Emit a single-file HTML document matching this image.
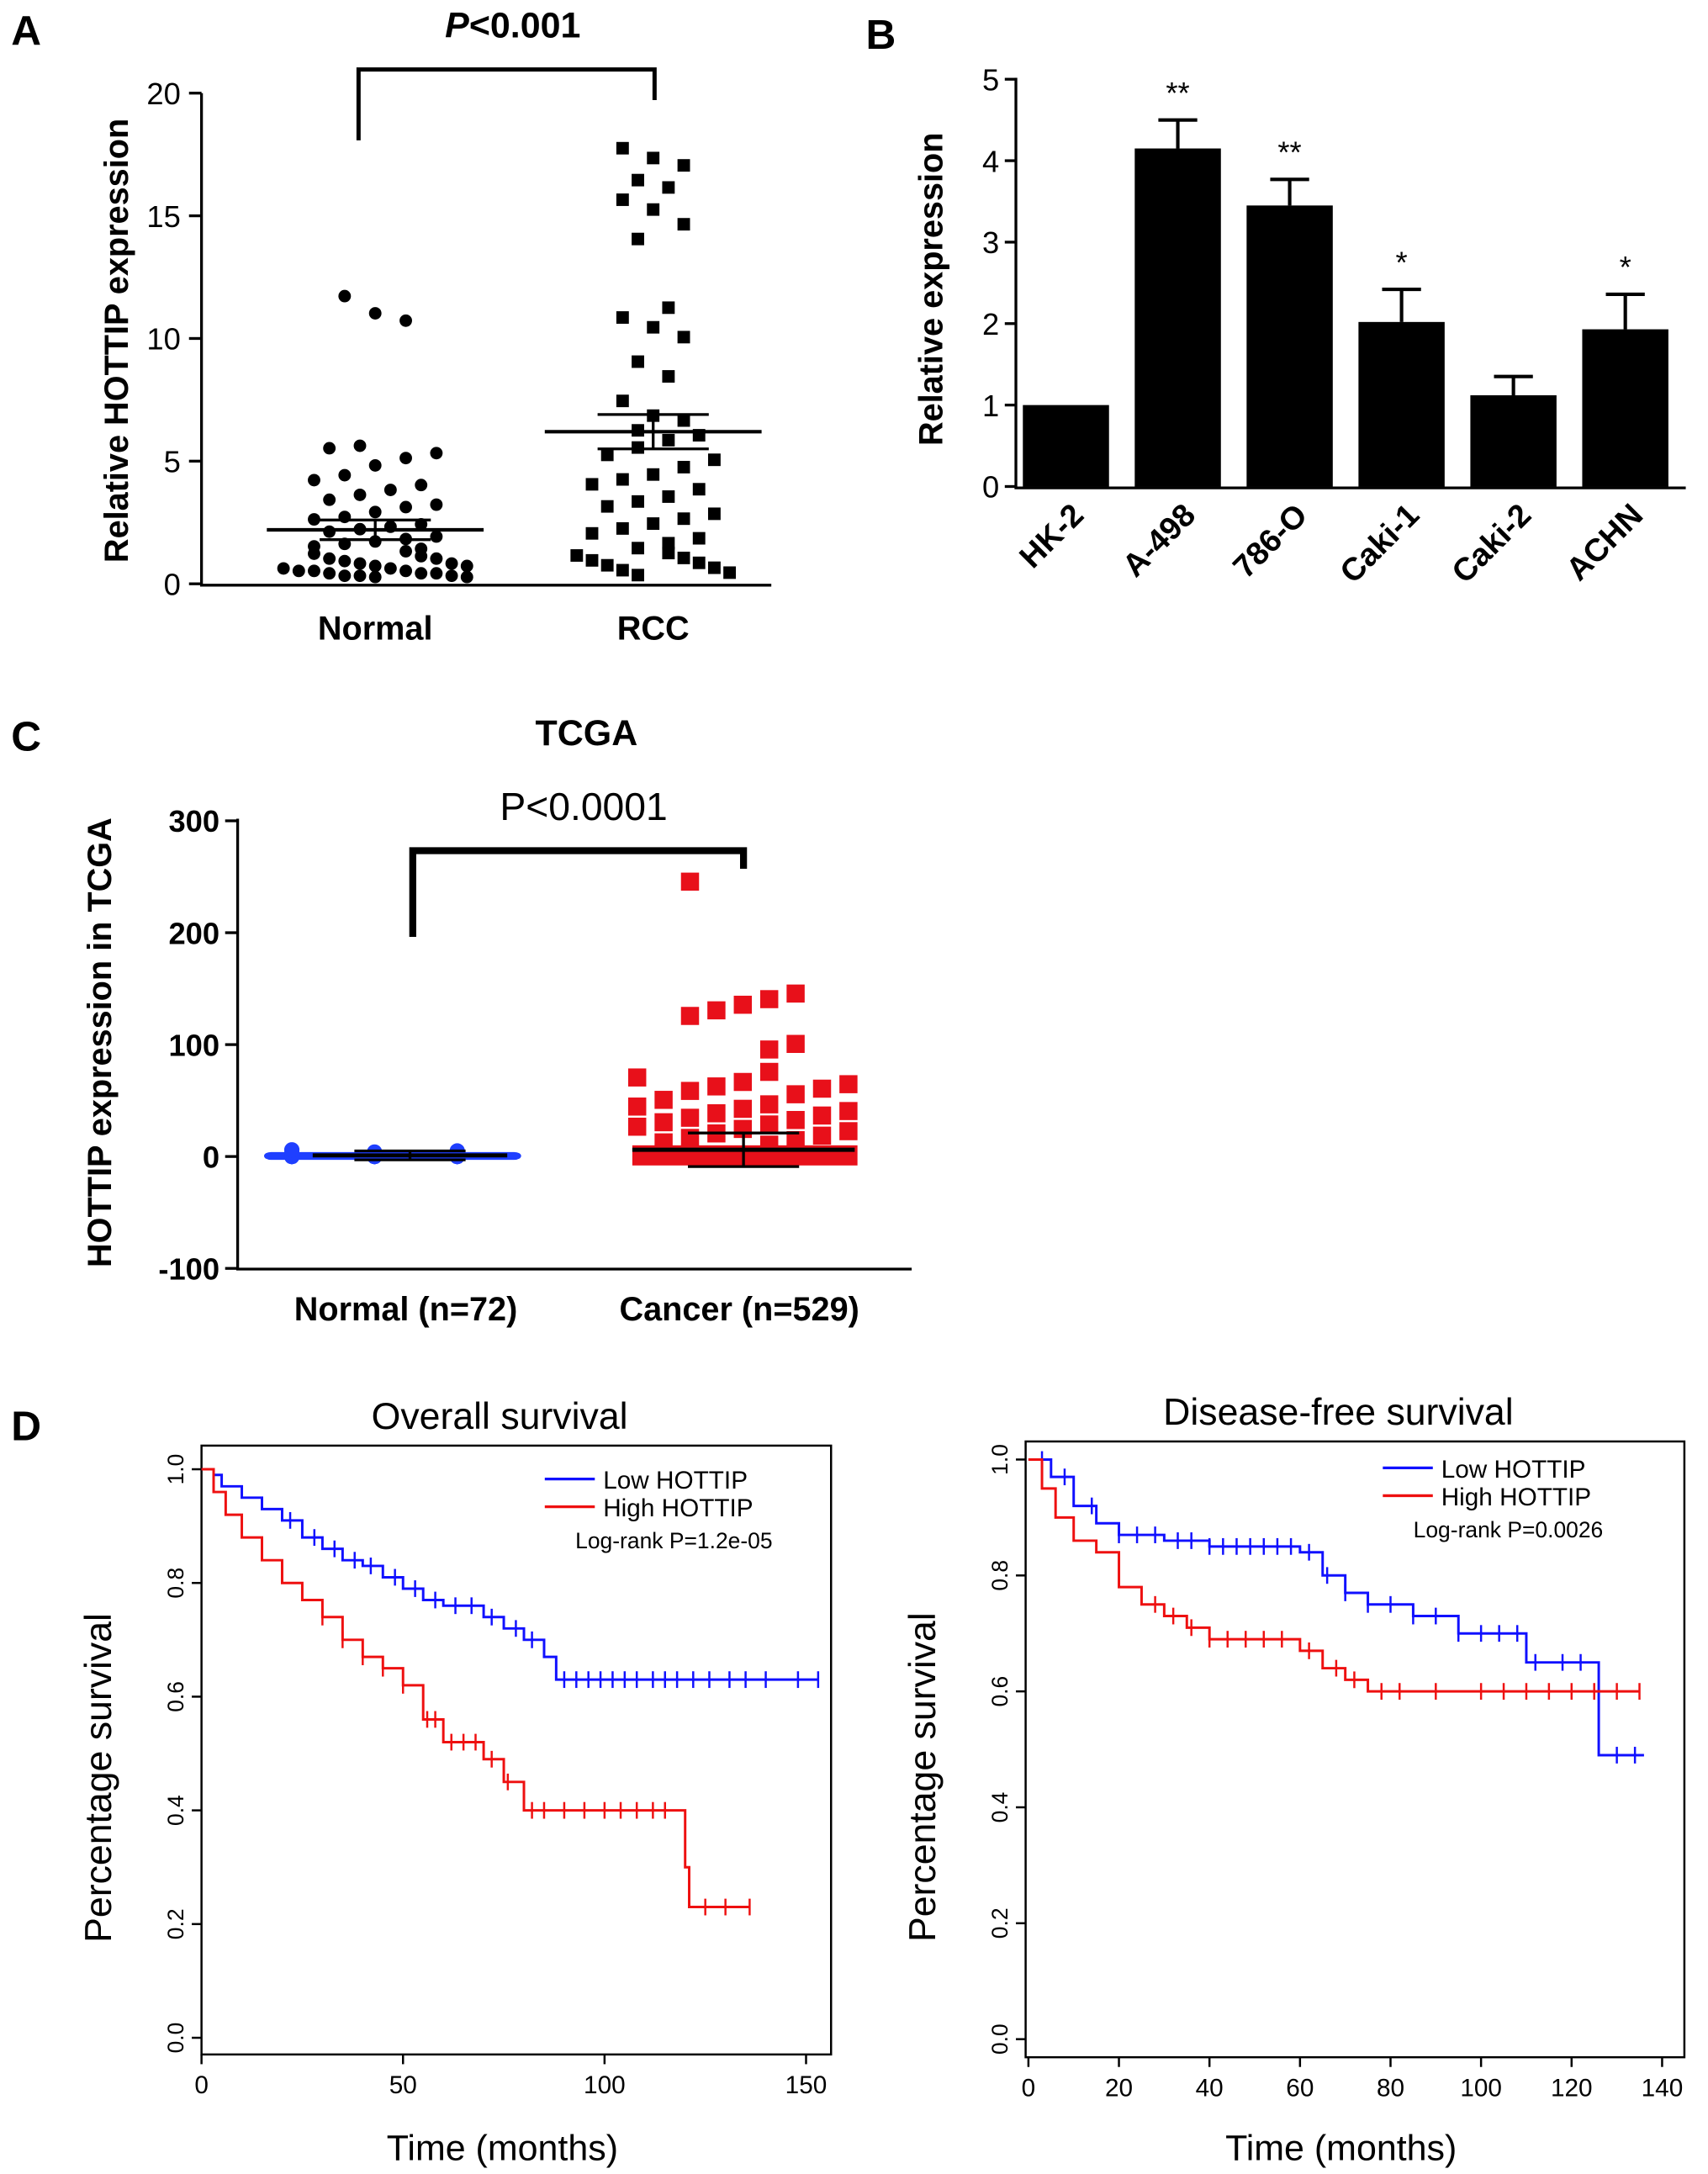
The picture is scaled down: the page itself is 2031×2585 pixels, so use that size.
<!DOCTYPE html>
<html><head><meta charset="utf-8"><style>
html,body{margin:0;padding:0;background:#fff}
svg{display:block;font-family:"Liberation Sans",Arial,sans-serif}
</style></head><body>
<svg id="fig" width="2031" height="2585" viewBox="0 0 1229 1564" preserveAspectRatio="none" xmlns="http://www.w3.org/2000/svg">
<g id="A"></g>
<g id="B"></g>
<g id="C"></g>
<g id="D"></g>
</svg>
<script>
// ---------- Panel A data ----------
const aNormal=[11.5,10.8,10.5,5.4,5.3,5.1,4.9,4.6,4.2,4.0,3.8,3.6,3.4,3.2,3.0,2.9,2.7,2.5,2.4,2.2,2.1,2.0,1.9,1.7,1.6,1.5,1.4,1.3,1.2,1.1,1.0,0.9,0.8,0.8,0.7,0.6,0.6,0.5,0.5,0.4,0.4,0.3,0.3,0.3,0.2,0.2,0.2,0.1,0.1,0.1,0.05,0.05];
const aRCC=[17.5,17.1,16.8,16.2,15.9,15.4,15.0,14.4,13.8,11.0,10.6,10.2,9.8,8.8,8.2,7.2,6.6,6.4,6.0,5.8,5.6,5.3,5.0,4.8,4.5,4.2,4.0,3.8,3.6,3.3,3.1,2.9,2.6,2.4,2.2,2.0,1.8,1.6,1.4,1.2,1.0,0.9,0.8,0.7,0.6,0.5,0.4,0.3,0.2,0.1];
const aMean=[2.2,6.2], aErr=[0.4,0.7];
const aTicks=[0,5,10,15,20];
// ---------- Panel B data ----------
const bCats=["HK-2","A-498","786-O","Caki-1","Caki-2","ACHN"];
const bVals=[1,4.15,3.45,2.02,1.12,1.93];
const bErrs=[0,0.35,0.32,0.4,0.23,0.43];
const bStars=["","**","**","*","","*"];
const bTicks=[0,1,2,3,4,5];
// ---------- Panel C data ----------
const cNormal=[0,0,0,0,0,0,0,0,0,0,0,0,0,0,0,0,0,1,1,1,1,1,1,2,2,2,3,3,4,5,6];
const cCancer=[245,145,140,135,130,125,100,95,75,70,66,64,62,60,58,55,50,46,44,42,40,38,36,34,32,30,28,26,24,22,20,18,16,14,12,10];
const cMean=[1,6], cErr=[4,15];
const cTicks=[-100,0,100,200,300];
// ---------- Panel D data ----------
const osLowT=[0,3,5,10,15,20,25,30,35,40,45,50,55,60,70,75,80,85,88,153];
const osLowS=[1,0.99,0.97,0.95,0.93,0.91,0.88,0.86,0.84,0.83,0.81,0.79,0.77,0.76,0.74,0.72,0.70,0.67,0.63,0.63];
const osLowC=[22,28,33,38,42,48,53,58,63,67,72,78,82,90,93,96,99,102,105,108,112,115,118,122,126,131,135,140,148,153];
const osHighT=[0,3,6,10,15,20,25,30,35,40,45,50,55,60,70,75,80,120,121,136];
const osHighS=[1,0.96,0.92,0.88,0.84,0.80,0.77,0.74,0.70,0.67,0.65,0.62,0.56,0.52,0.49,0.45,0.40,0.30,0.23,0.23];
const osHighC=[30,35,40,45,50,56,58,62,65,68,72,76,82,85,90,95,100,104,108,112,115,125,130,136];
const dfLowT=[0,5,10,15,20,30,40,60,65,70,75,85,95,110,126,136];
const dfLowS=[1,0.97,0.92,0.89,0.87,0.86,0.85,0.84,0.80,0.77,0.75,0.73,0.70,0.65,0.49,0.49];
const dfLowC=[3,8,14,20,24,28,33,36,40,43,46,49,52,55,58,62,66,70,75,80,85,90,95,100,104,108,112,118,122,130,134];
const dfHighT=[0,3,6,10,15,20,25,30,35,40,50,60,65,70,75,135];
const dfHighS=[1,0.95,0.90,0.86,0.84,0.78,0.75,0.73,0.71,0.69,0.69,0.67,0.64,0.62,0.60,0.60];
const dfHighC=[28,32,36,40,44,48,52,56,62,68,72,78,82,90,100,105,110,115,120,125,130,135];

const NS="http://www.w3.org/2000/svg";
function el(p,tag,attrs,txt){const e=document.createElementNS(NS,tag);for(const k in attrs)e.setAttribute(k,attrs[k]);if(txt!==undefined)e.textContent=txt;p.appendChild(e);return e;}

// ===== Panel A =====
(function(){
const g=document.getElementById('A');
const y=v=>420-v*17.65; const xs=[270,470];
let t=el(g,'text',{x:8,y:32,'font-size':30,'font-weight':'bold'},'A');

t=el(g,'line',{x1:145,y1:67,x2:145,y2:421,stroke:'#000','stroke-width':2});

t=el(g,'line',{x1:144,y1:421,x2:555,y2:421,stroke:'#000','stroke-width':2});

aTicks.forEach(v=>{
 const k=el(g,'line',{x1:136,x2:145,y1:y(v),y2:y(v),stroke:'#000','stroke-width':2});
 
 const l=el(g,'text',{x:130,y:y(v)+8,'font-size':22,'text-anchor':'end'},v);
 
});
t=el(g,'text',{transform:'translate(92,245) rotate(-90)','font-size':24,'font-weight':'bold','text-anchor':'middle'},'Relative HOTTIP expression');

["Normal","RCC"].forEach((c,i)=>{const l=el(g,'text',{x:xs[i],y:460,'font-size':24,'font-weight':'bold','text-anchor':'middle'},c);
});
t=el(g,'path',{d:'M258,101 V50 H471 V72',fill:'none',stroke:'#000','stroke-width':3});

t=el(g,'text',{x:369,y:27,'font-size':26,'font-weight':'bold','text-anchor':'middle'});

t.innerHTML='<tspan font-style="italic">P</tspan>&lt;0.001';
[aNormal,aRCC].forEach((arr,gi)=>{
 arr.forEach((v,i)=>{
  const span=v<1.2?13:(v<6?9:5);
  const off=(((i*7)%span)-(span-1)/2)*11;
  const cx=xs[gi]+off;
  let m;
  if(gi===0){m=el(g,'circle',{cx:cx,cy:y(v)-4,r:4.5,fill:'#000'});}
  else{m=el(g,'rect',{x:cx-4.5,y:y(v)-9,width:9,height:9,fill:'#000'});}
  
 });
 const cx=xs[gi];
 let mm=el(g,'line',{x1:cx-78,x2:cx+78,y1:y(aMean[gi]),y2:y(aMean[gi]),stroke:'#000','stroke-width':2.5});
 
 [1,-1].forEach(s=>{const e=el(g,'line',{x1:cx-40,x2:cx+40,y1:y(aMean[gi]+s*aErr[gi]),y2:y(aMean[gi]+s*aErr[gi]),stroke:'#000','stroke-width':2});
 });
 const v=el(g,'line',{x1:cx,x2:cx,y1:y(aMean[gi]+aErr[gi]),y2:y(aMean[gi]-aErr[gi]),stroke:'#000','stroke-width':2});
 
});
})();

// ===== Panel B =====
(function(){
const g=document.getElementById('B');
const y=v=>350-v*58.6; const x=i=>767+i*80.5;
let t=el(g,'text',{x:623,y:35,'font-size':30,'font-weight':'bold'},'B');

t=el(g,'line',{x1:731,y1:56,x2:731,y2:351,stroke:'#000','stroke-width':2});

t=el(g,'line',{x1:730,y1:351,x2:1213,y2:351,stroke:'#000','stroke-width':2});

bTicks.forEach(v=>{
 const k=el(g,'line',{x1:723,x2:731,y1:y(v),y2:y(v),stroke:'#000','stroke-width':2});
 
 const l=el(g,'text',{x:719,y:y(v)+8,'font-size':22,'text-anchor':'end'},v);
 
});
t=el(g,'text',{transform:'translate(678,208) rotate(-90)','font-size':24,'font-weight':'bold','text-anchor':'middle'},'Relative expression');

bCats.forEach((c,i)=>{
 const cx=x(i);
 const b=el(g,'rect',{x:cx-31,y:y(bVals[i]),width:62,height:y(0)-y(bVals[i]),fill:'#000'});
 
 if(bErrs[i]>0){
  const e=el(g,'path',{d:`M${cx},${y(bVals[i])} V${y(bVals[i]+bErrs[i])} M${cx-14},${y(bVals[i]+bErrs[i])} H${cx+14}`,stroke:'#000','stroke-width':2.5,fill:'none'});
  
 }
 if(bStars[i]){const s=el(g,'text',{x:cx,y:y(bVals[i]+bErrs[i])-12,'font-size':22,'text-anchor':'middle'},bStars[i]);
  }
 const l=el(g,'text',{transform:`translate(${cx+14},${372}) rotate(-45)`,'font-size':23,'font-weight':'bold','text-anchor':'end'},c);
 
});
})();

// ===== Panel C =====
(function(){
const g=document.getElementById('C');
const y=v=>832-v*0.805; const xs=[295,535];
let t=el(g,'text',{x:8,y:540,'font-size':30,'font-weight':'bold'},'C');

t=el(g,'text',{x:422,y:536,'font-size':26,'font-weight':'bold','text-anchor':'middle'},'TCGA');

t=el(g,'text',{x:420,y:590,'font-size':28,'text-anchor':'middle'},'P<0.0001');

t=el(g,'path',{d:'M297,674 V612 H535 V625',fill:'none',stroke:'#000','stroke-width':5});

t=el(g,'line',{x1:171,y1:589,x2:171,y2:913,stroke:'#000','stroke-width':2});

t=el(g,'line',{x1:170,y1:913,x2:656,y2:913,stroke:'#000','stroke-width':2});

cTicks.forEach(v=>{
 const k=el(g,'line',{x1:162,x2:171,y1:y(v),y2:y(v),stroke:'#000','stroke-width':2});
 
 const l=el(g,'text',{x:158,y:y(v)+8,'font-size':22,'font-weight':'bold','text-anchor':'end'},v);
 
});
t=el(g,'text',{transform:'translate(80,750) rotate(-90)','font-size':24,'font-weight':'bold','text-anchor':'middle'},'HOTTIP expression in TCGA');

["Normal (n=72)","Cancer (n=529)"].forEach((c,i)=>{const l=el(g,'text',{x:xs[i]-3,y:950,'font-size':24,'font-weight':'bold','text-anchor':'middle'},c);
});
const band1=el(g,'rect',{x:190,y:y(4),width:185,height:y(-3)-y(4),rx:5,fill:'#1f3fff'});

cNormal.forEach((v,i)=>{const off=(((i*7)%21)-10)*8.5;
 const m=el(g,'circle',{cx:xs[0]+off,cy:y(v),r:5.5,fill:'#1f3fff'});
 });
const band2=el(g,'rect',{x:455,y:y(10),width:162,height:y(-8)-y(10),fill:'#e8101a'});

cCancer.forEach((v,i)=>{const span=v>90?5:9;const off=(((i*4)%span)-(span-1)/2)*19;
 const m=el(g,'rect',{x:xs[1]+off-7,y:y(v)-7,width:13,height:13,fill:'#e8101a'});
 });
[0,1].forEach(i=>{const cx=xs[i];const w=i?80:70;
 const m=el(g,'line',{x1:cx-w,x2:cx+w,y1:y(cMean[i]),y2:y(cMean[i]),stroke:'#000','stroke-width':3});
 
 const e=el(g,'path',{d:`M${cx-40},${y(cMean[i]+cErr[i])}H${cx+40}M${cx-40},${y(cMean[i]-cErr[i])}H${cx+40}M${cx},${y(cMean[i]+cErr[i])}V${y(cMean[i]-cErr[i])}`,stroke:'#000','stroke-width':2,fill:'none'});
 });
})();

// ===== Panel D =====
function stepVal(T,S,t){let v=S[0];for(let i=0;i<T.length;i++){if(T[i]<=t)v=S[i];}return v;}
function km(g,cfg){
 const x=t=>cfg.x0+t*cfg.xs, y=s=>cfg.y0-s*cfg.ys;
 let b=el(g,'rect',{x:cfg.bx,y:cfg.by,width:cfg.bw,height:cfg.bh,fill:'none',stroke:'#000','stroke-width':1.5});
 
 b=el(g,'text',{x:cfg.bx+cfg.bw/2-12,y:cfg.by-12,'font-size':27,'text-anchor':'middle'},cfg.title);
 
 [0,0.2,0.4,0.6,0.8,1.0].forEach(v=>{
  const k=el(g,'line',{x1:cfg.bx-7,x2:cfg.bx,y1:y(v),y2:y(v),stroke:'#000','stroke-width':1.5});
  
  const l=el(g,'text',{transform:`translate(${cfg.bx-13},${y(v)}) rotate(-90)`,'font-size':16,'text-anchor':'middle'},v.toFixed(1));
  });
 cfg.xt.forEach(v=>{
  const k=el(g,'line',{x1:x(v),x2:x(v),y1:cfg.by+cfg.bh,y2:cfg.by+cfg.bh+7,stroke:'#000','stroke-width':1.5});
  
  const l=el(g,'text',{x:x(v),y:cfg.by+cfg.bh+28,'font-size':18,'text-anchor':'middle'},v);
  });
 b=el(g,'text',{x:cfg.bx+cfg.bw/2-10,y:1554,'font-size':26,'text-anchor':'middle'},'Time (months)');
 
 b=el(g,'text',{transform:`translate(${cfg.bx-65},${cfg.by+cfg.bh/2+20}) rotate(-90)`,'font-size':27,'text-anchor':'middle'},'Percentage survival');
 
 cfg.series.forEach(s=>{
  let d=`M${x(s.T[0])},${y(s.S[0])}`;
  for(let i=1;i<s.T.length;i++){d+=`H${x(s.T[i])}V${y(s.S[i])}`;}
  const p=el(g,'path',{d:d,fill:'none',stroke:s.c,'stroke-width':1.8});
  
  s.C.forEach(t=>{const cy=y(stepVal(s.T,s.S,t));
   const m=el(g,'path',{d:`M${x(t)},${cy-6}V${cy+6}`,stroke:s.c,'stroke-width':1.5});
   });
 });
 const lx=cfg.lx, ly=cfg.ly;
 [['#1010ff','Low HOTTIP'],['#ee1010','High HOTTIP']].forEach((e,i)=>{
  const l=el(g,'line',{x1:lx,x2:lx+36,y1:ly+i*20,y2:ly+i*20,stroke:e[0],'stroke-width':2});
  
  const t=el(g,'text',{x:lx+42,y:ly+i*20+7,'font-size':18},e[1]);
  });
 const t=el(g,'text',{x:lx+22,y:ly+50,'font-size':16},cfg.p);
 
}
(function(){
const g=document.getElementById('D');
let t=el(g,'text',{x:8,y:1036,'font-size':30,'font-weight':'bold'},'D');

const g1=el(g,'g',{});
km(g1,{bx:145,by:1040,bw:453,bh:438,x0:145,xs:2.9,y0:1466,ys:409,xt:[0,50,100,150],title:'Overall survival',lx:392,ly:1064,p:'Log-rank P=1.2e-05',
 series:[{T:osLowT,S:osLowS,C:osLowC,c:'#1010ff',n:'low-hottip'},{T:osHighT,S:osHighS,C:osHighC,c:'#ee1010',n:'high-hottip'}]});
const g2=el(g,'g',{});
km(g2,{bx:738,by:1037,bw:474,bh:443,x0:740,xs:3.257,y0:1467,ys:417,xt:[0,20,40,60,80,100,120,140],title:'Disease-free survival',lx:995,ly:1056,p:'Log-rank P=0.0026',
 series:[{T:dfLowT,S:dfLowS,C:dfLowC,c:'#1010ff',n:'low-hottip'},{T:dfHighT,S:dfHighS,C:dfHighC,c:'#ee1010',n:'high-hottip'}]});
})();
</script>
</body></html>
